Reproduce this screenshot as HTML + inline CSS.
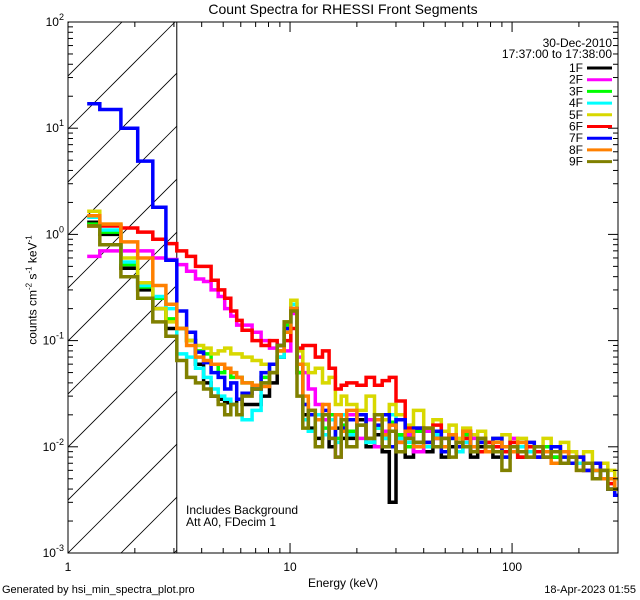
<!DOCTYPE html>
<html><head><meta charset="utf-8"><style>
html,body{margin:0;padding:0;background:#fff;}
svg{display:block;font-family:"Liberation Sans",sans-serif;}
</style></head><body>
<svg id="chart" width="640" height="600" viewBox="0 0 640 600"></svg>
<script>
const energyEdges=[1.22,1.39,1.73,2.06,2.41,2.76,3.09,3.42,3.75,4.08,4.41,4.75,5.08,5.41,5.75,6.08,6.75,7.41,8.08,8.75,9.41,10.08,10.75,11.41,12.08,13,14,15,16,17,18,20,22,24,26,28,30,33,36,40,44,48,52,56,60,65,70,76,82,90,98,106,116,126,138,150,165,180,195,210,230,250,270,290,300];
const seriesNames=["1F","2F","3F","4F","5F","6F","7F","8F","9F"];
const seriesColors=["#000000","#ff00ff","#00ff00","#00ffff","#d8d800","#ff0000","#0000ff","#ff8000","#808000"];
const s1F=[1.3,1.0,0.48,0.3,0.2,0.13,0.13,0.1,0.06,0.04,0.03,0.028,0.026,0.025,0.028,0.025,0.025,0.03,0.04,0.07,0.12,0.2,0.05,0.02,0.015,0.012,0.02,0.01,0.015,0.012,0.012,0.018,0.01,0.013,0.009,0.003,0.012,0.008,0.011,0.009,0.012,0.008,0.01,0.009,0.011,0.008,0.01,0.009,0.008,0.01,0.009,0.008,0.01,0.008,0.009,0.008,0.007,0.008,0.007,0.006,0.006,0.005,0.004,0.004];
const s2F=[0.62,0.7,0.7,0.7,0.6,0.58,0.52,0.45,0.38,0.36,0.3,0.26,0.2,0.17,0.14,0.14,0.12,0.1,0.085,0.08,0.08,0.18,0.07,0.05,0.035,0.025,0.018,0.02,0.008,0.015,0.02,0.012,0.018,0.01,0.014,0.016,0.011,0.013,0.009,0.014,0.012,0.01,0.013,0.009,0.011,0.012,0.009,0.011,0.01,0.008,0.012,0.009,0.01,0.008,0.01,0.009,0.007,0.009,0.007,0.006,0.007,0.006,0.005,0.004];
const s3F=[1.25,1.05,0.52,0.32,0.25,0.16,0.13,0.1,0.08,0.075,0.06,0.05,0.055,0.045,0.045,0.04,0.035,0.045,0.06,0.08,0.14,0.2,0.05,0.025,0.02,0.018,0.015,0.02,0.012,0.016,0.014,0.02,0.011,0.015,0.012,0.017,0.013,0.01,0.014,0.011,0.013,0.009,0.012,0.01,0.013,0.01,0.011,0.009,0.012,0.01,0.009,0.011,0.01,0.009,0.01,0.008,0.009,0.008,0.007,0.007,0.006,0.006,0.005,0.004];
const s4F=[1.45,1.1,0.55,0.33,0.26,0.2,0.075,0.07,0.055,0.045,0.035,0.03,0.028,0.025,0.02,0.018,0.022,0.04,0.05,0.07,0.13,0.22,0.06,0.018,0.014,0.02,0.013,0.018,0.011,0.02,0.013,0.016,0.011,0.015,0.012,0.02,0.012,0.011,0.015,0.01,0.013,0.01,0.012,0.009,0.011,0.01,0.012,0.009,0.01,0.008,0.011,0.01,0.009,0.01,0.008,0.009,0.008,0.007,0.007,0.006,0.006,0.005,0.005,0.004];
const s5F=[1.65,1.25,0.6,0.35,0.2,0.15,0.13,0.1,0.09,0.085,0.075,0.08,0.085,0.075,0.075,0.07,0.065,0.06,0.06,0.08,0.15,0.24,0.08,0.06,0.05,0.055,0.04,0.045,0.025,0.03,0.025,0.022,0.03,0.02,0.018,0.025,0.02,0.016,0.022,0.015,0.018,0.014,0.016,0.012,0.015,0.013,0.014,0.011,0.012,0.013,0.01,0.012,0.011,0.01,0.012,0.009,0.011,0.009,0.008,0.009,0.007,0.007,0.006,0.005];
const s6F=[1.2,1.2,1.15,1.05,0.9,0.82,0.7,0.62,0.5,0.5,0.37,0.3,0.25,0.19,0.155,0.125,0.1,0.09,0.1,0.09,0.1,0.13,0.085,0.09,0.09,0.07,0.08,0.055,0.035,0.038,0.04,0.038,0.045,0.038,0.042,0.045,0.027,0.015,0.015,0.011,0.016,0.012,0.013,0.011,0.012,0.01,0.009,0.011,0.01,0.009,0.011,0.008,0.01,0.009,0.008,0.01,0.009,0.007,0.008,0.006,0.007,0.005,0.0045,0.004];
const s7F=[17,15,10,4.9,1.8,0.57,0.19,0.12,0.078,0.062,0.05,0.045,0.035,0.04,0.028,0.032,0.035,0.05,0.06,0.09,0.13,0.2,0.06,0.025,0.02,0.018,0.022,0.012,0.02,0.015,0.018,0.02,0.012,0.016,0.02,0.01,0.018,0.012,0.015,0.011,0.014,0.009,0.012,0.01,0.014,0.009,0.011,0.01,0.012,0.008,0.01,0.009,0.011,0.008,0.009,0.01,0.008,0.007,0.008,0.006,0.007,0.005,0.004,0.0035];
const s8F=[1.5,1.25,0.85,0.6,0.33,0.22,0.13,0.09,0.07,0.065,0.06,0.06,0.055,0.05,0.045,0.04,0.038,0.037,0.05,0.08,0.12,0.2,0.06,0.03,0.022,0.018,0.025,0.015,0.02,0.014,0.022,0.016,0.012,0.018,0.013,0.016,0.011,0.014,0.01,0.015,0.012,0.01,0.013,0.011,0.014,0.01,0.012,0.009,0.011,0.01,0.009,0.011,0.008,0.01,0.009,0.007,0.009,0.008,0.006,0.007,0.006,0.005,0.005,0.004];
const s9F=[1.2,0.8,0.4,0.25,0.15,0.11,0.065,0.045,0.04,0.035,0.03,0.025,0.02,0.025,0.02,0.03,0.035,0.04,0.05,0.09,0.15,0.19,0.03,0.015,0.022,0.01,0.02,0.012,0.008,0.018,0.01,0.016,0.012,0.02,0.01,0.014,0.009,0.012,0.011,0.015,0.01,0.012,0.008,0.011,0.01,0.009,0.012,0.01,0.009,0.006,0.01,0.009,0.008,0.01,0.008,0.009,0.007,0.008,0.006,0.007,0.005,0.006,0.004,0.004];
const seriesValues=[s1F,s2F,s3F,s4F,s5F,s6F,s7F,s8F,s9F];
const xTickValues=[1,10,100];
const xTickLabels=["1","10","100"];
const yTickExps=[-3,-2,-1,0,1,2];

const L=68,R=618,T=22,B=553;
const xMin=0,xMax=Math.log10(300);
const X=e=>L+(Math.log10(e)-xMin)/(xMax-xMin)*(R-L);
const yMinE=-3,yMaxE=2;
const Y=v=>B-(Math.log10(v)-yMinE)/(yMaxE-yMinE)*(B-T);
const NS="http://www.w3.org/2000/svg";
const svg=document.getElementById('chart');
function mk(tag,attrs,parent){const el=document.createElementNS(NS,tag);for(const k in attrs)el.setAttribute(k,attrs[k]);(parent||svg).appendChild(el);return el;}

const defs=mk('defs',{});
const cp=mk('clipPath',{id:'plotclip'},defs);
mk('rect',{x:L,y:T,width:R-L,height:B-T},cp);
const hc=mk('clipPath',{id:'hatchclip'},defs);
const xLim=X(3.09);
mk('rect',{x:L,y:T,width:xLim-L,height:B-T},hc);

const hatch=mk('g',{'clip-path':'url(#hatchclip)',stroke:'#000','stroke-width':'0.8'});


for(let k=-12;k<4;k++){const x0=L+k*53;mk('line',{x1:x0,y1:B,x2:x0+(B-T),y2:T},hatch);}
const vl=mk('line',{x1:xLim,y1:T,x2:xLim,y2:B,stroke:'#000','stroke-width':1});



const sg=mk('g',{'clip-path':'url(#plotclip)'});
seriesValues.forEach((vals,si)=>{
  let d='';
  vals.forEach((v,i)=>{const x1=X(energyEdges[i]),x2=X(energyEdges[i+1]),y=Y(v);d+=(i===0?'M':'L')+x1.toFixed(1)+','+y.toFixed(1)+'L'+x2.toFixed(1)+','+y.toFixed(1);});
  const p=mk('path',{d:d,fill:'none',stroke:seriesColors[si],'stroke-width':3.5,'stroke-linejoin':'miter'},sg);
  
  
});

const fr=mk('rect',{x:L,y:T,width:R-L,height:B-T,fill:'none',stroke:'#000','stroke-width':1});



const xt=mk('g',{stroke:'#000','stroke-width':1});


for(let dec=1;dec<=100;dec*=10){for(let m=1;m<=9;m++){const e=dec*m;if(e>300)break;const x=X(e);const len=m===1?10:5;mk('line',{x1:x,y1:B,x2:x,y2:B-len},xt);mk('line',{x1:x,y1:T,x2:x,y2:T+len},xt);}}
xTickValues.forEach((v,i)=>{const t=mk('text',{x:X(v),y:B+18,'text-anchor':'middle','font-size':12});t.textContent=xTickLabels[i];

});

const yt=mk('g',{stroke:'#000','stroke-width':1});


for(let e=-3;e<2;e++){for(let m=1;m<=9;m++){const y=Y(m*Math.pow(10,e));const len=m===1?10:5;mk('line',{x1:L,y1:y,x2:L+len,y2:y},yt);mk('line',{x1:R,y1:y,x2:R-len,y2:y},yt);}}
yTickExps.forEach(e=>{const y=Y(Math.pow(10,e));const t=mk('text',{x:L-4,y:y+4,'text-anchor':'end','font-size':12});t.innerHTML='10<tspan dy="-6" font-size="9">'+e+'</tspan>';

});

const lg=mk('g',{});


const d1=mk('text',{x:612,y:47,'text-anchor':'end','font-size':12},lg);d1.textContent='30-Dec-2010';
const d2=mk('text',{x:612,y:58,'text-anchor':'end','font-size':12},lg);d2.textContent='17:37:00 to 17:38:00';
seriesNames.forEach((n,i)=>{const y=68+i*11.7;
  const t=mk('text',{x:583,y:y+4,'text-anchor':'end','font-size':12},lg);t.textContent=n;
  
  
  const l=mk('line',{x1:587,y1:y,x2:612,y2:y,stroke:seriesColors[i],'stroke-width':3},lg);
  
  
});
</script>
<div style="position:absolute;left:0;top:0;width:640px;height:600px;pointer-events:none;font-family:'Liberation Sans',sans-serif;font-size:12px;">
<div style="position:absolute;left:0;width:686px;top:1px;text-align:center;font-size:14px;">Count Spectra for RHESSI Front Segments</div>
<div style="position:absolute;left:186px;top:504px;line-height:12px;">Includes Background<br>Att A0, FDecim 1</div>
<div style="position:absolute;left:0;width:686px;top:576px;text-align:center;">Energy (keV)</div>
<div style="position:absolute;left:2px;top:584px;font-size:11px;">Generated by hsi_min_spectra_plot.pro</div>
<div style="position:absolute;right:4px;top:584px;font-size:11px;">18-Apr-2023 01:55</div>
<div style="position:absolute;left:32px;top:290px;transform:translate(-50%,-50%) rotate(-90deg);white-space:nowrap;">counts cm<sup style="font-size:8px">-2</sup> s<sup style="font-size:8px">-1</sup> keV<sup style="font-size:8px">-1</sup></div>
</div>
</body></html>
